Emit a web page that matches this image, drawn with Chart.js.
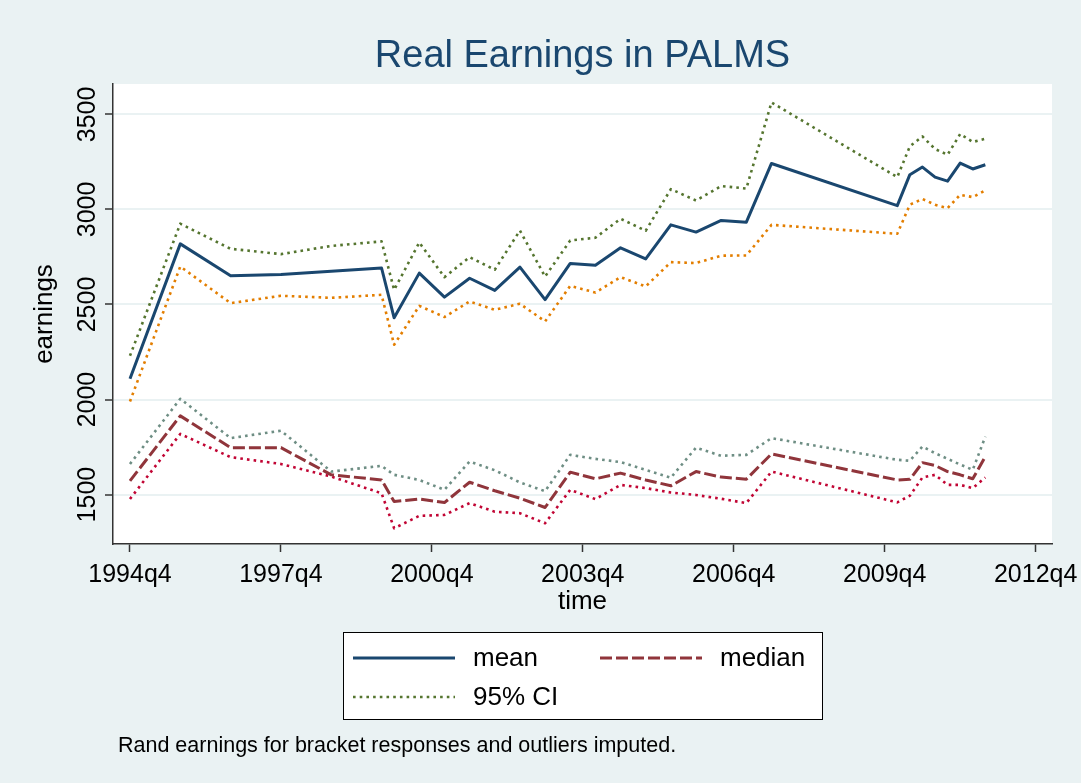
<!DOCTYPE html>
<html>
<head>
<meta charset="utf-8">
<title>Real Earnings in PALMS</title>
<script src="https://cdn.jsdelivr.net/npm/chart.js@4.4.1/dist/chart.umd.min.js"></script>
<style>
  html, body { margin: 0; padding: 0; background: #eaf2f3; }
  #wrap { width: 1081px; height: 783px; }
</style>
</head>
<body>
<div id="wrap"><canvas id="grafico" width="1081" height="783"></canvas></div>
<script>
// periodos de las encuestas (OHS anual, LFS semestral, QLFS trimestral)
const periodos = ['1994q4', '1995q4', '1996q4', '1997q4', '1998q4', '1999q4',
  '2000q1', '2000q3', '2001q1', '2001q3', '2002q1', '2002q3', '2003q1', '2003q3',
  '2004q1', '2004q3', '2005q1', '2005q3', '2006q1', '2006q3', '2007q1', '2007q3',
  '2010q1', '2010q2', '2010q3', '2010q4', '2011q1', '2011q2', '2011q3', '2011q4'];

const media = [2109, 2819, 2651, 2658, 2675, 2692, 2430, 2665, 2539, 2638, 2574, 2697, 2526, 2716, 2707,
  2798, 2740, 2919, 2881, 2942, 2933, 3242, 3020, 3183, 3223, 3170, 3149, 3244, 3213, 3235];
const mediaSup = [2230, 2925, 2793, 2765, 2808, 2832, 2577, 2826, 2644, 2749, 2683, 2889, 2647, 2837, 2851,
  2951, 2888, 3107, 3047, 3123, 3110, 3563, 3170, 3332, 3384, 3318, 3288, 3397, 3355, 3372];
const mediaInf = [1990, 2700, 2507, 2546, 2535, 2551, 2288, 2493, 2434, 2516, 2472, 2504, 2411, 2598, 2563,
  2644, 2595, 2723, 2718, 2757, 2758, 2919, 2872, 3025, 3055, 3025, 3007, 3077, 3065, 3100];

const mediana = [1572, 1914, 1747, 1747, 1604, 1577, 1463, 1477, 1458, 1565, 1520, 1481, 1432, 1618, 1583,
  1613, 1577, 1546, 1621, 1592, 1581, 1714, 1577, 1580, 1668, 1653, 1621, 1604, 1583, 1700];
const medianaSup = [1661, 2004, 1797, 1836, 1621, 1651, 1604, 1577, 1525, 1674, 1628, 1564, 1518, 1709, 1688,
  1671, 1630, 1589, 1747, 1704, 1709, 1797, 1683, 1678, 1753, 1718, 1688, 1658, 1630, 1805];
const medianaInf = [1477, 1819, 1697, 1661, 1595, 1507, 1323, 1388, 1393, 1455, 1410, 1402, 1349, 1525, 1476,
  1551, 1534, 1511, 1498, 1478, 1455, 1621, 1459, 1494, 1590, 1604, 1551, 1551, 1534, 1590];

const etiquetasX = ['1994q4', '1997q4', '2000q4', '2003q4', '2006q4', '2009q4', '2012q4'];
const etiquetasY = [1500, 2000, 2500, 3000, 3500];

const FUENTE = 'Liberation Sans, Arial, Helvetica, sans-serif';
const NAVY = '#1a476f';
const MAROON = '#90353b';
const VERDE = '#55752f';
const NARANJA = '#e37e00';
const TEAL = '#6e8e84';
const ARANDANO = '#c10534';

const PUNTEADO = [2.6, 4.1];
const GUIONES = [12, 4];

// trimestres desde 1994q4
function aTrimestre(p) {
    const partes = p.split('q');
    return (Number(partes[0]) - 1994) * 4 + Number(partes[1]) - 4;
}

function serie(valores) {
    return periodos.map((p, i) => ({ x: aTrimestre(p), y: valores[i] }));
}

function linea(label, valores, color, dash, ancho) {
    return {
        label: label,
        data: serie(valores),
        borderColor: color,
        borderWidth: ancho,
        borderDash: dash,
        borderCapStyle: 'butt',
        borderJoinStyle: 'round',
        pointRadius: 0,
        tension: 0,
        fill: false
    };
}

const fondo = {
    id: 'fondo',
    beforeDraw(chart) {
        const { ctx, chartArea: a } = chart;
        ctx.save();
        ctx.fillStyle = '#eaf2f3';
        ctx.fillRect(0, 0, chart.width, chart.height);
        ctx.fillStyle = '#ffffff';
        ctx.fillRect(a.left, a.top, a.right - a.left, a.bottom - a.top);
        ctx.restore();
    }
};

// leyenda con marco y nota al pie, como en Stata
const leyenda = {
    id: 'leyenda',
    afterDraw(chart) {
        const ctx = chart.ctx;
        ctx.save();
        ctx.fillStyle = '#ffffff';
        ctx.fillRect(343, 632, 479, 87);
        ctx.strokeStyle = '#000000';
        ctx.lineWidth = 1;
        ctx.strokeRect(343.5, 632.5, 479, 87);

        const entradas = [
            { ds: 0, x: 353, y: 658 },
            { ds: 1, x: 600, y: 658 },
            { ds: 2, x: 353, y: 697 }
        ];
        entradas.forEach(e => {
            const d = chart.data.datasets[e.ds];
            ctx.beginPath();
            ctx.strokeStyle = d.borderColor;
            ctx.lineWidth = d.borderWidth;
            ctx.setLineDash(d.borderDash);
            ctx.moveTo(e.x, e.y);
            ctx.lineTo(e.x + 102, e.y);
            ctx.stroke();
            ctx.setLineDash([]);
            ctx.fillStyle = '#000000';
            ctx.font = '26px ' + FUENTE;
            ctx.textBaseline = 'middle';
            ctx.textAlign = 'left';
            ctx.fillText(d.label, e.x + 120, e.y + 1);
        });

        ctx.font = '21.5px ' + FUENTE;
        ctx.fillText('Rand earnings for bracket responses and outliers imputed.', 118, 746);
        ctx.restore();
    }
};

new Chart(document.getElementById('grafico'), {
    type: 'line',
    data: {
        datasets: [
            linea('mean', media, NAVY, [], 3),
            linea('median', mediana, MAROON, GUIONES, 3),
            linea('95% CI', mediaSup, VERDE, PUNTEADO, 2.6),
            linea('lower CI mean', mediaInf, NARANJA, PUNTEADO, 2.6),
            linea('upper CI median', medianaSup, TEAL, PUNTEADO, 2.6),
            linea('lower CI median', medianaInf, ARANDANO, PUNTEADO, 2.6)
        ]
    },
    plugins: [fondo, leyenda],
    options: {
        responsive: false,
        animation: false,
        events: [],
        layout: { padding: { left: 0, right: 29, top: 0, bottom: 160 } },
        plugins: {
            legend: { display: false },
            tooltip: { enabled: false },
            title: {
                display: true,
                text: 'Real Earnings in PALMS',
                fullSize: false,
                color: NAVY,
                font: { family: FUENTE, size: 38, weight: 'normal', lineHeight: 1 },
                padding: { top: 38, bottom: 8 }
            }
        },
        scales: {
            x: {
                type: 'linear',
                min: -1.35,
                max: 73.3,
                afterBuildTicks: s => { s.ticks = etiquetasX.map(t => ({ value: aTrimestre(t) })); },
                afterFit: s => { s.height = 79; s.paddingLeft = 0; s.paddingRight = 0; },
                ticks: {
                    autoSkip: false,
                    maxRotation: 0,
                    padding: 11,
                    color: '#000000',
                    font: { family: FUENTE, size: 25, lineHeight: 1 },
                    callback: (v, i) => etiquetasX[i]
                },
                grid: { drawOnChartArea: false, tickColor: '#333333', tickLength: 8, tickWidth: 1.5 },
                border: { color: '#333333', width: 1.5 },
                title: {
                    display: true,
                    text: 'time',
                    color: '#000000',
                    font: { family: FUENTE, size: 26, lineHeight: 1 },
                    padding: { top: 0, bottom: 8 }
                }
            },
            y: {
                min: 1240,
                max: 3660,
                afterBuildTicks: s => { s.ticks = etiquetasY.map(v => ({ value: v })); },
                afterFit: s => { s.width = 113; s.paddingTop = 0; s.paddingBottom = 0; },
                ticks: {
                    autoSkip: false,
                    minRotation: 90,
                    maxRotation: 90,
                    crossAlign: 'center',
                    padding: -10.8,
                    color: '#000000',
                    font: { family: FUENTE, size: 25, lineHeight: 1 },
                    callback: v => String(v)
                },
                grid: { color: '#eaf2f3', lineWidth: 2, tickColor: '#333333', tickLength: 8, tickWidth: 1.5 },
                border: { color: '#333333', width: 1.5 },
                title: {
                    display: true,
                    text: 'earnings',
                    color: '#000000',
                    font: { family: FUENTE, size: 26, lineHeight: 1 },
                    padding: { top: 32, bottom: 0 }
                }
            }
        }
    }
});
</script>
</body>
</html>
